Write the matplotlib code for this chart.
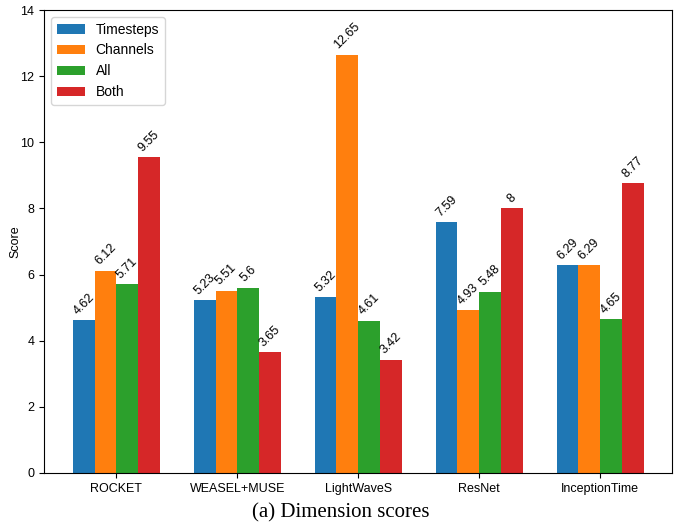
import numpy as np
import matplotlib.pyplot as plt

plt.rcParams['font.family'] = ['Liberation Sans', 'DejaVu Sans']

models = ['ROCKET', 'WEASEL+MUSE', 'LightWaveS', 'ResNet', 'InceptionTime']
series = ['Timesteps', 'Channels', 'All', 'Both']
timesteps = [4.62, 5.23, 5.32, 7.59, 6.29]
channels = [6.12, 5.51, 12.65, 4.93, 6.29]
all_dims = [5.71, 5.6, 4.61, 5.48, 4.65]
both = [9.55, 3.65, 3.42, 8, 8.77]
values = [timesteps, channels, all_dims, both]
colors = ['#1f77b4', '#ff7f0e', '#2ca02c', '#d62728']

fig = plt.figure(figsize=(6.81, 5.29), dpi=100)
ax = fig.add_axes([0.065, 0.106, 0.922, 0.875])

x = np.arange(len(models))
width = 0.18
for i, (name, vals) in enumerate(zip(series, values)):
    pos = x + (i - 1.5) * width
    ax.bar(pos, vals, width, color=colors[i], label=name)
    for px, v in zip(pos, vals):
        ax.text(px, v + 0.1, f'{v:g}', rotation=45, ha='center', va='bottom', fontsize=9)

ax.set_xticks(x)
ax.set_xticklabels(models, fontsize=9)
ax.tick_params(axis='y', labelsize=9)
ax.set_ylabel('Score', fontsize=9)
ax.yaxis.set_label_coords(-0.036, 0.5)
ax.set_ylim(0, 14)
ax.legend(loc='upper left', fontsize=10)

fig.text(0.5, 0.012, '(a) Dimension scores', ha='center', va='bottom',
         fontsize=15, family='Liberation Serif')

fig.savefig('out.png', dpi=100)
